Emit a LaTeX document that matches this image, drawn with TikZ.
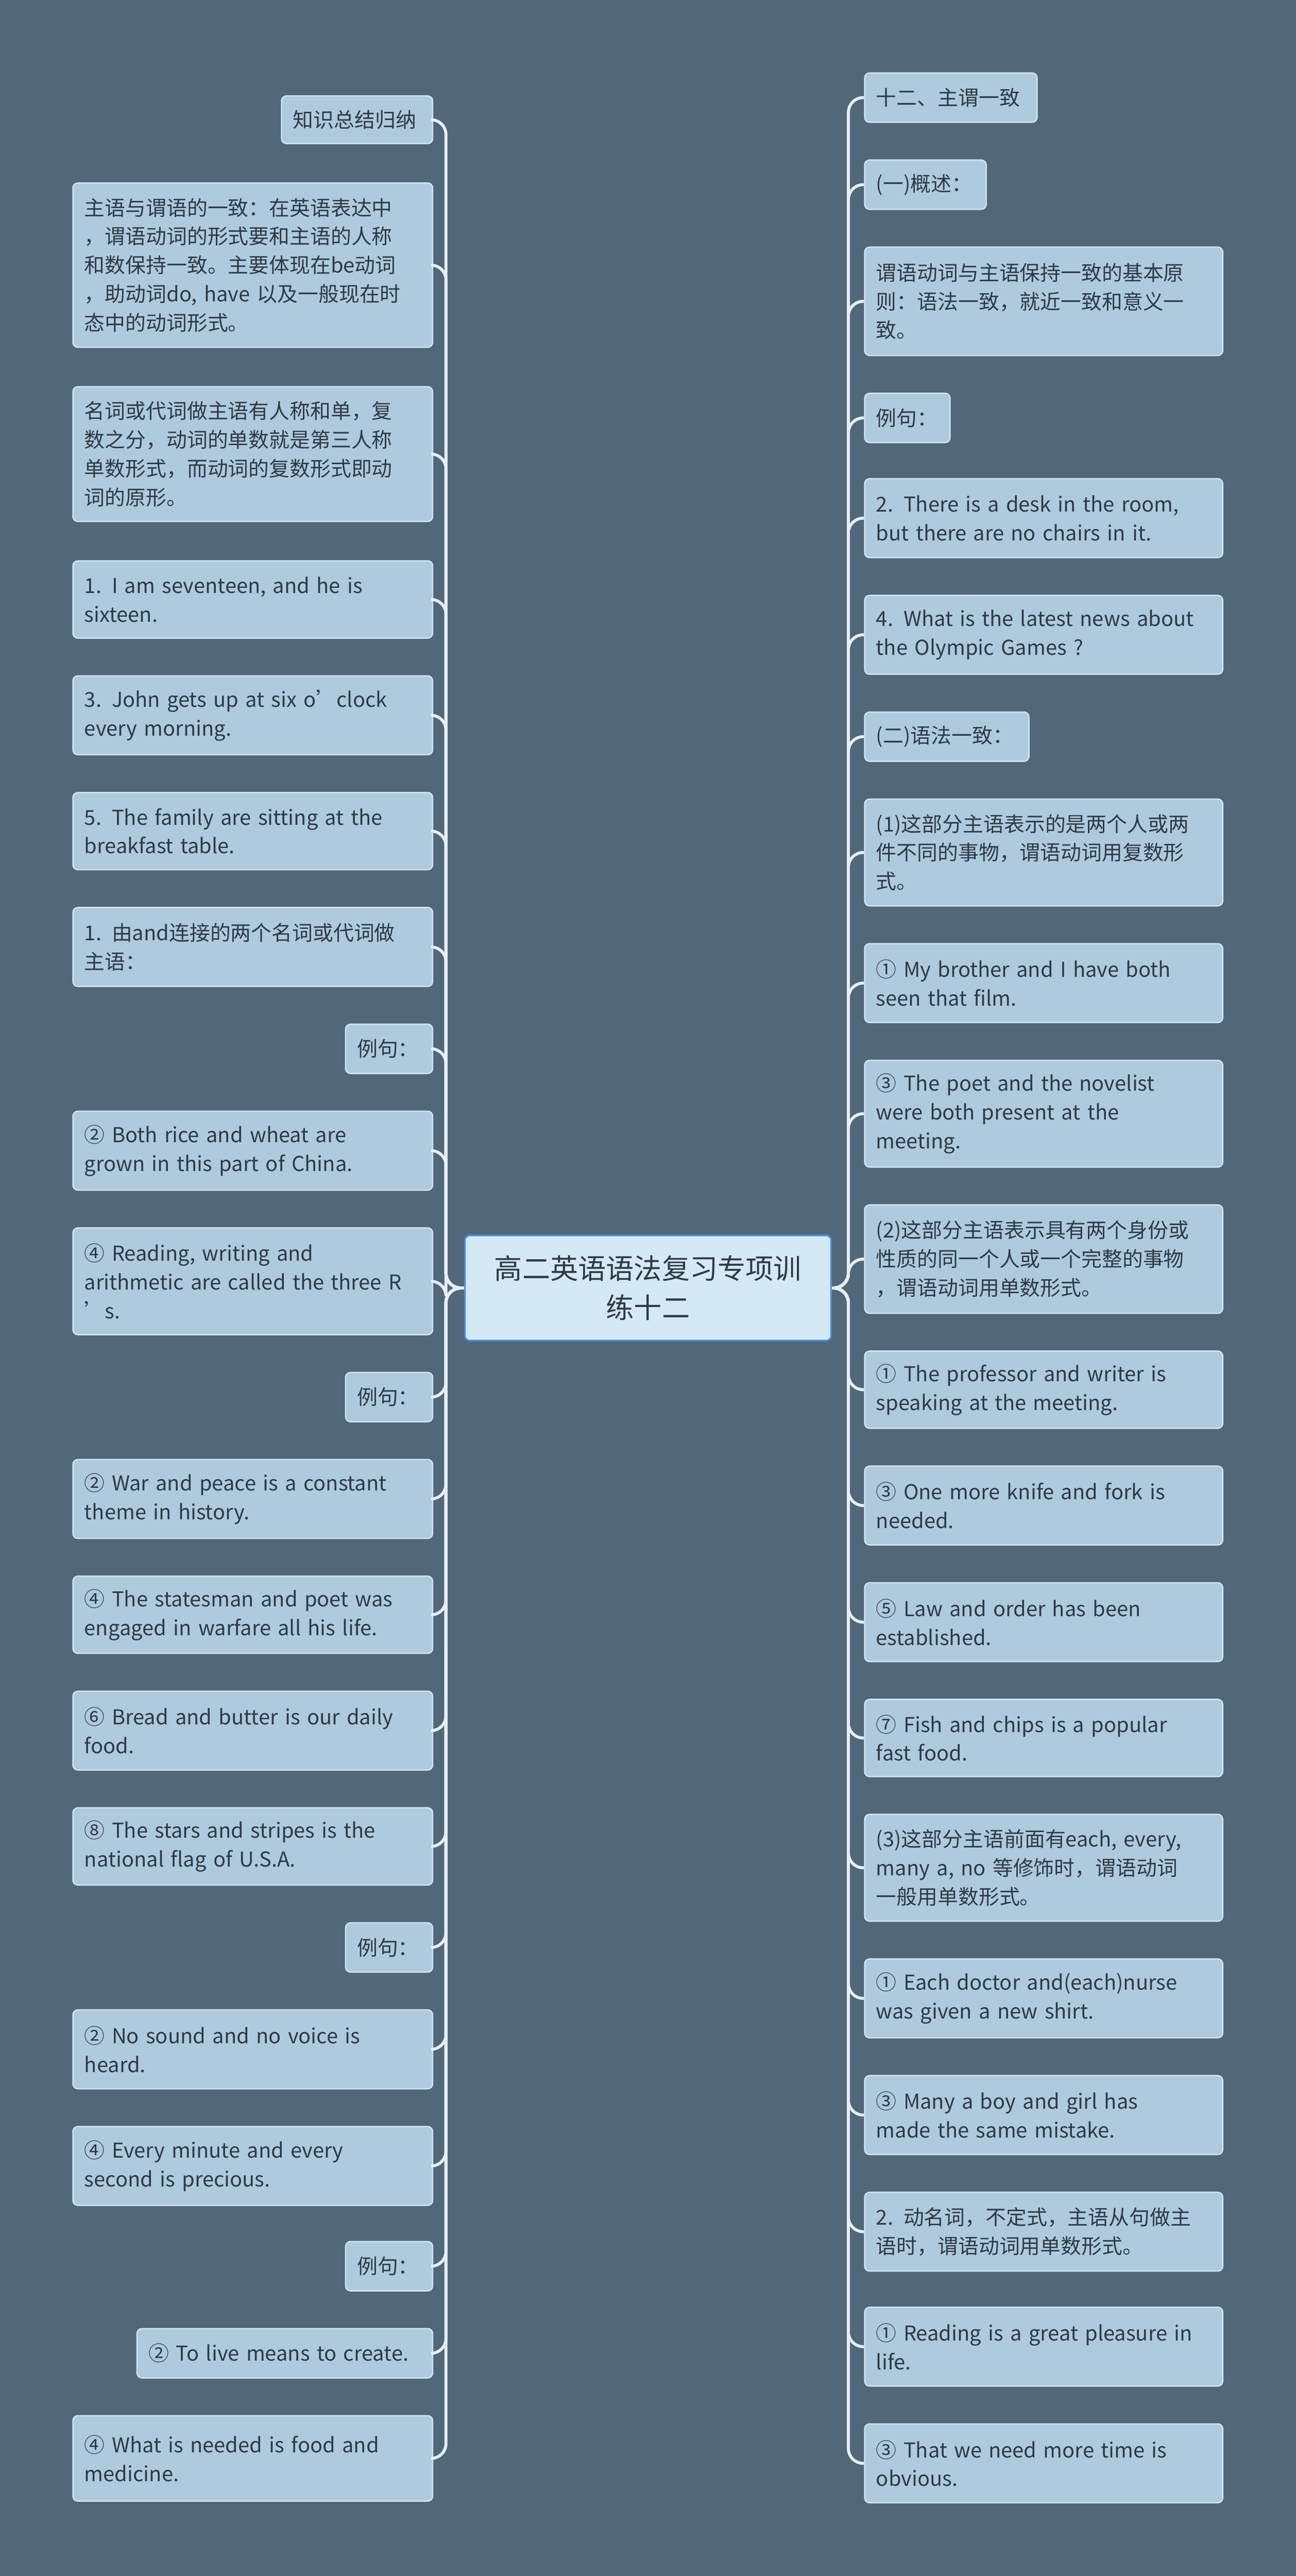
\documentclass[tikz,border=0pt]{standalone}
\usepackage{fontspec}
\setmainfont{Noto Sans CJK SC}
\definecolor{bg}{HTML}{51687A}
\definecolor{nf}{HTML}{AECADF}
\definecolor{nd}{HTML}{D2E3F0}
\definecolor{tx}{HTML}{2E3A44}
\definecolor{cf}{HTML}{D5E8F6}
\definecolor{cb}{HTML}{4A8FD8}
\definecolor{ln}{HTML}{E8EEF3}
\tikzset{
 leaf/.style={draw=nd,fill=nf,rounded corners=3pt,line width=0.8pt,inner xsep=7pt,inner ysep=3pt,align=left,text=tx,font=\fontsize{12.5}{17.5}\selectfont},
 conn/.style={draw=ln,line width=1.8pt,rounded corners=9pt}
}
\newcommand{\nl}[6]{% name, xleft, ytop, ybot, width, text
 \node[leaf,anchor=north west,minimum height=#4-#3,minimum width=#5,text width=#5-14] (#1) at (#2,#3) {#6};}
\begin{document}
\begin{tikzpicture}[x=1pt,y=-1pt]
\fill[bg] (0,0) rectangle (789,1568);
\useasboundingbox (0,0) rectangle (789,1568);
\node[draw=cb,fill=cf,rounded corners=3pt,line width=1pt,minimum width=223,minimum height=64,align=center,text=tx,font=\fontsize{17}{24}\selectfont] (c) at (394.5,784) {高二英语语法复习专项训\\练十二};
% left
\nl{l1}{171}{58}{87}{92}{知识总结归纳}
\nl{l2}{44}{111}{211}{219}{主语与谓语的一致：在英语表达中\\，谓语动词的形式要和主语的人称\\和数保持一致。主要体现在be动词\\，助动词do, have 以及一般现在时\\态中的动词形式。}
\nl{l3}{44}{235}{317}{219}{名词或代词做主语有人称和单，复\\数之分，动词的单数就是第三人称\\单数形式，而动词的复数形式即动\\词的原形。}
\nl{l4}{44}{341}{388}{219}{1. I am seventeen, and he is\\sixteen.}
\nl{l5}{44}{411}{459}{219}{3. John gets up at six o’clock\\every morning.}
\nl{l6}{44}{482}{529}{219}{5. The family are sitting at the\\breakfast table.}
\nl{l7}{44}{552}{600}{219}{1. 由and连接的两个名词或代词做\\主语：}
\nl{l8}{210}{623}{653}{53}{例句：}
\nl{l9}{44}{676}{724}{219}{② Both rice and wheat are\\grown in this part of China.}
\nl{l10}{44}{747}{812}{219}{④ Reading, writing and\\arithmetic are called the three R\\’s.}
\nl{l11}{210}{835}{865}{53}{例句：}
\nl{l12}{44}{888}{936}{219}{② War and peace is a constant\\theme in history.}
\nl{l13}{44}{959}{1006}{219}{④ The statesman and poet was\\engaged in warfare all his life.}
\nl{l14}{44}{1029}{1077}{219}{⑥ Bread and butter is our daily\\food.}
\nl{l15}{44}{1100}{1147}{219}{⑧ The stars and stripes is the\\national flag of U.S.A.}
\nl{l16}{210}{1170}{1200}{53}{例句：}
\nl{l17}{44}{1223}{1271}{219}{② No sound and no voice is\\heard.}
\nl{l18}{44}{1294}{1342}{219}{④ Every minute and every\\second is precious.}
\nl{l19}{210}{1364}{1394}{53}{例句：}
\nl{l20}{83}{1417}{1447}{180}{② To live means to create.}
\nl{l21}{44}{1470}{1522}{219}{④ What is needed is food and\\medicine.}
% right
\nl{r1}{526}{44}{74}{105}{十二、主谓一致}
\nl{r2}{526}{97}{127}{74}{(一)概述：}
\nl{r3}{526}{150}{216}{218}{谓语动词与主语保持一致的基本原\\则：语法一致，就近一致和意义一\\致。}
\nl{r4}{526}{239}{269}{52}{例句：}
\nl{r5}{526}{291}{339}{218}{2. There is a desk in the room,\\but there are no chairs in it.}
\nl{r6}{526}{362}{410}{218}{4. What is the latest news about\\ the Olympic Games ?}
\nl{r7}{526}{433}{463}{100}{(二)语法一致：}
\nl{r8}{526}{486}{551}{218}{(1)这部分主语表示的是两个人或两\\件不同的事物，谓语动词用复数形\\式。}
\nl{r9}{526}{574}{622}{218}{① My brother and I have both\\seen that film.}
\nl{r10}{526}{645}{710}{218}{③ The poet and the novelist\\were both present at the\\meeting.}
\nl{r11}{526}{733}{799}{218}{(2)这部分主语表示具有两个身份或\\性质的同一个人或一个完整的事物\\，谓语动词用单数形式。}
\nl{r12}{526}{822}{869}{218}{① The professor and writer is\\speaking at the meeting.}
\nl{r13}{526}{892}{940}{218}{③ One more knife and fork is\\needed.}
\nl{r14}{526}{963}{1011}{218}{⑤ Law and order has been\\established.}
\nl{r15}{526}{1034}{1081}{218}{⑦ Fish and chips is a popular\\fast food.}
\nl{r16}{526}{1104}{1169}{218}{(3)这部分主语前面有each, every,\\many a, no 等修饰时，谓语动词\\一般用单数形式。}
\nl{r17}{526}{1192}{1240}{218}{① Each doctor and(each)nurse\\was given a new shirt.}
\nl{r18}{526}{1263}{1311}{218}{③ Many a boy and girl has\\made the same mistake.}
\nl{r19}{526}{1334}{1382}{218}{2. 动名词，不定式，主语从句做主\\语时，谓语动词用单数形式。}
\nl{r20}{526}{1404}{1452}{218}{① Reading is a great pleasure in\\life.}
\nl{r21}{526}{1475}{1523}{218}{③ That we need more time is\\obvious.}
\foreach \i in {1,...,21}{
 \draw[conn] (c.west) -- ++(-11,0) |- (l\i.east);
 \draw[conn] (c.east) -- ++(10,0) |- (r\i.west);
}
\end{tikzpicture}
\end{document}
